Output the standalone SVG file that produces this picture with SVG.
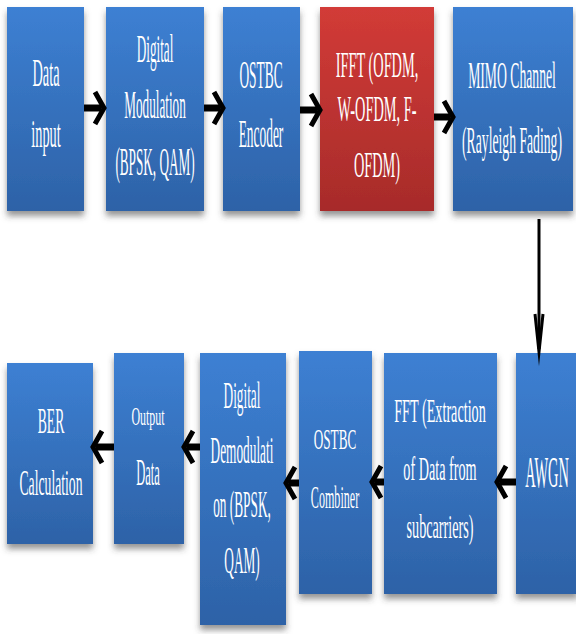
<svg xmlns="http://www.w3.org/2000/svg" width="576" height="634" viewBox="0 0 576 634">
  <defs>
    <linearGradient id="blueFill" x1="0" y1="0" x2="0" y2="1">
      <stop offset="0" stop-color="#3d80d3"/>
      <stop offset="1" stop-color="#2d62a7"/>
    </linearGradient>
    <linearGradient id="redFill" x1="0" y1="0" x2="0" y2="1">
      <stop offset="0" stop-color="#d23b37"/>
      <stop offset="1" stop-color="#a72b2a"/>
    </linearGradient>
    <filter id="boxShadow" x="-10%" y="-10%" width="120%" height="125%">
      <feDropShadow dx="0" dy="5" stdDeviation="3" flood-color="#404040" flood-opacity="0.55"/>
    </filter>
  </defs>
  <style>
    .box { fill: url(#blueFill); filter: url(#boxShadow); }
    .box.red { fill: url(#redFill); }
    .t { font-family: "Liberation Serif", "Times New Roman", serif; fill: #ffffff; text-anchor: middle; }
    .shaft { stroke: #000; stroke-width: 7; fill: none; }
    .head { stroke: #000; stroke-width: 5; fill: none; stroke-linejoin: miter; stroke-miterlimit: 10; }
    .vshaft { stroke: #000; stroke-width: 3; fill: none; }
    .vhead { stroke: #000; stroke-width: 3; fill: none; stroke-linejoin: miter; stroke-miterlimit: 20; }
  </style>
  <rect width="576" height="634" fill="#ffffff"/>

  <!-- transmitter chain (top row) -->
  <g id="data-input">
    <rect class="box" x="7" y="7" width="77" height="204"/>
    <text class="t" font-size="41" transform="translate(46 0) scale(0.35 1)"><tspan x="0" y="86">Data</tspan><tspan x="0" y="147">input</tspan></text>
  </g>
  <g id="digital-modulation">
    <rect class="box" x="106" y="7" width="98" height="204"/>
    <text class="t" font-size="40" transform="translate(155 0) scale(0.33 1)"><tspan x="0" y="62">Digital</tspan><tspan x="0" y="118">Modulation</tspan><tspan x="0" y="175">(BPSK, QAM)</tspan></text>
  </g>
  <g id="ostbc-encoder">
    <rect class="box" x="223" y="7" width="77" height="204"/>
    <text class="t" font-size="41" transform="translate(261 0) scale(0.327 1)"><tspan x="0" y="88">OSTBC</tspan><tspan x="0" y="147">Encoder</tspan></text>
  </g>
  <g id="ifft">
    <rect class="box red" x="320" y="7" width="114" height="204"/>
    <text class="t" font-size="35" transform="translate(377 0) scale(0.41 1)"><tspan x="0" y="77">IFFT (OFDM,</tspan><tspan x="0" y="121">W-OFDM, F-</tspan><tspan x="0" y="177">OFDM)</tspan></text>
  </g>
  <g id="mimo-channel">
    <rect class="box" x="453" y="7" width="120" height="204"/>
    <text class="t" font-size="38" transform="translate(512 0) scale(0.36 1)"><tspan x="0" y="88">MIMO Channel</tspan><tspan x="0" y="153">(Rayleigh Fading)</tspan></text>
  </g>

  <!-- receiver chain (bottom row) -->
  <g id="awgn">
    <rect class="box" x="516" y="353" width="62" height="241"/>
    <text class="t" font-size="45" transform="translate(547 0) scale(0.32 1)"><tspan x="0" y="487">AWGN</tspan></text>
  </g>
  <g id="fft">
    <rect class="box" x="384" y="353" width="113" height="241"/>
    <text class="t" font-size="33" transform="translate(440 0) scale(0.43 1)"><tspan x="0" y="422">FFT (Extraction</tspan><tspan x="0" y="480">of Data from</tspan><tspan x="0" y="538">subcarriers)</tspan></text>
  </g>
  <g id="ostbc-combiner">
    <rect class="box" x="299" y="351" width="73" height="243"/>
    <text class="t" font-size="30" transform="translate(335 0) scale(0.44 1)"><tspan x="0" y="449">OSTBC</tspan></text>
    <text class="t" font-size="31" transform="translate(335 0) scale(0.39 1)"><tspan x="0" y="508">Combiner</tspan></text>
  </g>
  <g id="digital-demodulation">
    <rect class="box" x="200" y="353" width="86" height="272"/>
    <text class="t" font-size="38" transform="translate(242 0) scale(0.35 1)"><tspan x="0" y="408">Digital</tspan><tspan x="0" y="463">Demodulati</tspan><tspan x="0" y="517">on (BPSK,</tspan><tspan x="0" y="573">QAM)</tspan></text>
  </g>
  <g id="output-data">
    <rect class="box" x="114" y="353" width="70" height="191"/>
    <text class="t" font-size="26" transform="translate(148 0) scale(0.46 1)"><tspan x="0" y="425">Output</tspan></text>
    <text class="t" font-size="38" transform="translate(148 0) scale(0.33 1)"><tspan x="0" y="485">Data</tspan></text>
  </g>
  <g id="ber-calculation">
    <rect class="box" x="7" y="363" width="86" height="181"/>
    <text class="t" font-size="36" transform="translate(51 0) scale(0.38 1)"><tspan x="0" y="433">BER</tspan><tspan x="0" y="495">Calculation</tspan></text>
  </g>

  <!-- connectors -->
  <g id="connectors">
    <!-- top row, left to right -->
    <path class="shaft" d="M84 108 H101"/>
    <path class="head" d="M95 92 L104 108 L95 124"/>
    <path class="shaft" d="M204 108 H220"/>
    <path class="head" d="M214 92 L223 108 L214 124"/>
    <path class="shaft" d="M300 110 H317"/>
    <path class="head" d="M311 94 L320 110 L311 126"/>
    <path class="shaft" d="M434 117 H450"/>
    <path class="head" d="M444 101 L453 117 L444 133"/>
    <!-- MIMO channel down to AWGN -->
    <path class="vshaft" d="M539 219 V349"/>
    <path class="vhead" d="M535 314 L539 352 L543 314"/>
    <!-- bottom row, right to left -->
    <path class="shaft" d="M516 482 H500"/>
    <path class="head" d="M506 466 L497 482 L506 498"/>
    <path class="shaft" d="M384 482 H375"/>
    <path class="head" d="M381 466 L372 482 L381 498"/>
    <path class="shaft" d="M299 483 H289"/>
    <path class="head" d="M295 467 L286 483 L295 499"/>
    <path class="shaft" d="M200 447 H187"/>
    <path class="head" d="M193 431 L184 447 L193 463"/>
    <path class="shaft" d="M114 447 H96"/>
    <path class="head" d="M102 431 L93 447 L102 463"/>
  </g>
</svg>
